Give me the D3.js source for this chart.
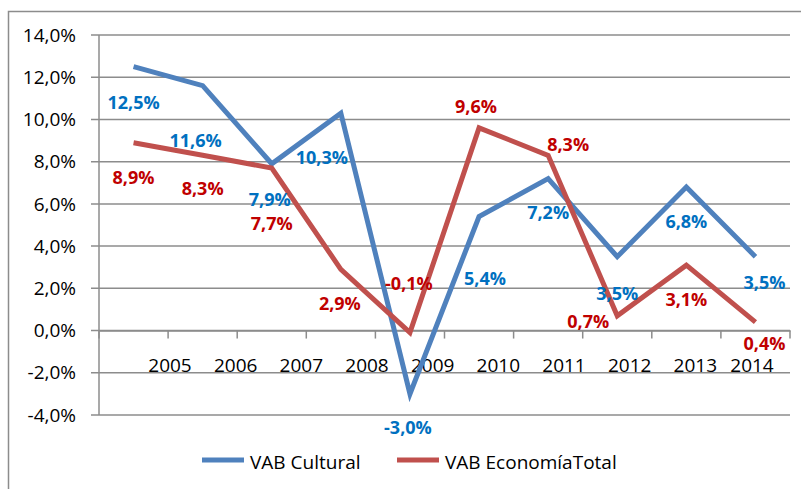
<!DOCTYPE html>
<html lang="es">
<head>
<meta charset="utf-8" />
<title>VAB Cultural vs VAB Economía Total</title>
<style>
  body { margin: 0; padding: 0; background: #fff; }
  svg { display: block; font-family: "Open Sans", "Noto Sans", sans-serif; }
  .grid line { stroke: #8c8c8c; stroke-width: 1.5px; }
  .ytick { font-size: 19px; fill: #000; }
  .xtick { font-size: 19px; fill: #000; }
  .dlabel { font-size: 18px; font-weight: bold; }
  .legend text { font-size: 19px; fill: #000; }
</style>
</head>
<body>
<div id="chart"></div>
<script src="https://d3js.org/d3.v7.min.js"></script>
<script>
// data
const years = ['2005', '2006', '2007', '2008', '2009', '2010', '2011', '2012', '2013', '2014'];
const vabCultural = [12.5, 11.6, 7.9, 10.3, -3.0, 5.4, 7.2, 3.5, 6.8, 3.5];
const vabTotal = [8.9, 8.3, 7.7, 2.9, -0.1, 9.6, 8.3, 0.7, 3.1, 0.4];
const yTicks = [-4, -2, 0, 2, 4, 6, 8, 10, 12, 14];
const seriesNames = ['VAB Cultural', 'VAB EconomíaTotal'];

// label nudges (px from the point), as placed in the original
const culturalNudge = [[0, 36], [-7, 55], [-2, 36], [-19, 45], [-2, 34], [6, 62], [0, 34], [0, 37], [0, 35], [9, 26]];
const totalNudge = [[0, 35], [0, 33], [0, 56], [-1, 34], [-1, -49], [-3, -21], [20, -11], [-29, 6], [0, 35], [9, 22]];

const W = 801, H = 489;
const plot = { left: 99, right: 790, top: 35, bottom: 415 };

const svg = d3.select('#chart').append('svg')
    .attr('width', W)
    .attr('height', H);

// outer frame (runs off the right and bottom)
svg.append('rect')
    .attr('x', 8.5).attr('y', 11.5)
    .attr('width', W + 10).attr('height', H + 10)
    .attr('fill', 'none')
    .attr('stroke', '#8c8c8c')
    .attr('stroke-width', 1.5);

const x = d3.scaleBand().domain(years).range([plot.left, plot.right]);
const y = d3.scaleLinear().domain([-4, 14]).range([plot.bottom, plot.top]);
const fmt = v => d3.format('.1f')(v).replace('.', ',').replace('\u2212', '-') + '%';

// horizontal gridlines with short ticks on the left
const grid = svg.append('g').attr('class', 'grid');
grid.selectAll('line')
    .data(yTicks)
    .enter().append('line')
    .attr('x1', plot.left - 8)
    .attr('x2', plot.right)
    .attr('y1', d => y(d))
    .attr('y2', d => y(d));

// vertical axis line
grid.append('line')
    .attr('x1', plot.left).attr('x2', plot.left)
    .attr('y1', y(14)).attr('y2', y(-4));

// y tick labels
svg.append('g').selectAll('text')
    .data(yTicks)
    .enter().append('text')
    .attr('class', 'ytick')
    .attr('x', 76)
    .attr('y', d => y(d))
    .attr('dy', '0.35em')
    .attr('text-anchor', 'end')
    .text(d => fmt(d));

// x axis at zero with tick marks between categories
const xAxis = d3.axisBottom(x).tickSize(0).tickFormat('');
const xg = svg.append('g').attr('transform', `translate(0,${y(0)})`).call(xAxis);
xg.select('.domain').attr('stroke', '#8c8c8c').attr('stroke-width', 1.5);
xg.selectAll('.tick').remove();
xg.selectAll('line.sep')
    .data(years.map(d => x(d)).concat([plot.right]))
    .enter().append('line')
    .attr('class', 'sep')
    .attr('x1', d => d).attr('x2', d => d)
    .attr('y1', 0).attr('y2', 8)
    .attr('stroke', '#8c8c8c')
    .attr('stroke-width', 1.5);

// category labels (offset as in the original layout)
const xl = d3.scalePoint().domain(years).range([170, 761]);
svg.append('g').selectAll('text')
    .data(years)
    .enter().append('text')
    .attr('class', 'xtick')
    .attr('x', d => Math.min(xl(d), 752))
    .attr('y', 365)
    .attr('dy', '0.35em')
    .attr('text-anchor', 'middle')
    .text(d => d);

const cx = d => x(d) + x.bandwidth() / 2;
const line = d3.line().x((d, i) => cx(years[i])).y(d => y(d));

const series = [
  { name: seriesNames[0], values: vabCultural, color: '#4f81bd', label: '#0070c0', nudge: culturalNudge },
  { name: seriesNames[1], values: vabTotal, color: '#c0504d', label: '#c00000', nudge: totalNudge }
];

// blue first, red drawn on top
series.forEach(s => {
  svg.append('path')
      .datum(s.values)
      .attr('fill', 'none')
      .attr('stroke', s.color)
      .attr('stroke-width', 5)
      .attr('stroke-linejoin', 'miter')
      .attr('d', line);
});

series.forEach(s => {
  svg.append('g').selectAll('text')
      .data(s.values)
      .enter().append('text')
      .attr('class', 'dlabel')
      .attr('fill', s.label)
      .attr('x', (d, i) => cx(years[i]) + s.nudge[i][0])
      .attr('y', (d, i) => y(d) + s.nudge[i][1])
      .attr('dy', '0.35em')
      .attr('text-anchor', 'middle')
      .text(d => fmt(d));
});

// legend
const legend = svg.append('g').attr('class', 'legend');
const legendX = [202, 397];
series.forEach((s, i) => {
  legend.append('line')
      .attr('x1', legendX[i]).attr('x2', legendX[i] + 42)
      .attr('y1', 460).attr('y2', 460)
      .attr('stroke', s.color)
      .attr('stroke-width', 5);
  legend.append('text')
      .attr('x', legendX[i] + 48)
      .attr('y', 462)
      .attr('dy', '0.35em')
      .text(s.name);
});
</script>
</body>
</html>
